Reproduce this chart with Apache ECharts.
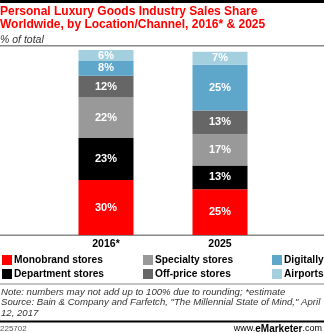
<!DOCTYPE html>
<html>
<head>
<meta charset="utf-8">
<script src="https://cdn.jsdelivr.net/npm/echarts@6/dist/echarts.min.js"></script>
<style>
html,body{margin:0;padding:0;background:#fff;}
#chart{width:324px;height:334px;}
</style>
</head>
<body>
<div id="chart"></div>
<script>
const categories = ['2016*', '2025'];
const monobrand = [30, 25];
const department = [23, 13];
const specialty = [22, 17];
const offprice = [12, 13];
const digitally = [8, 25];
const airports = [6, 7];

const seriesNames = ['Monobrand stores', 'Department stores', 'Specialty stores', 'Off-price stores', 'Digitally', 'Airports'];
const seriesData = [monobrand, department, specialty, offprice, digitally, airports];
const colors = ['#ff0000', '#000000', '#999999', '#666666', '#5fa6cb', '#a3cfdf'];

const FONT = 'Liberation Sans, Arial, sans-serif';
const chart = echarts.init(document.getElementById('chart'));

const series = seriesNames.map((name, i) => ({
  name: name,
  type: 'bar',
  stack: 'total',
  barWidth: 55,
  data: seriesData[i],
  itemStyle: { color: colors[i] },
  label: {
    show: true,
    position: 'inside',
    formatter: '{c}%',
    color: '#fff',
    fontWeight: 'bold',
    fontSize: 11,
    fontFamily: FONT
  }
}));

const legendBase = {
  orient: 'vertical',
  icon: 'rect',
  itemWidth: 10,
  itemHeight: 10,
  itemGap: 4,
  padding: 0,
  textStyle: { fontSize: 10.2, fontWeight: 'bold', color: '#000', fontFamily: FONT, padding: [0, 0, 0, -3] },
  selectedMode: false
};

chart.setOption({
  animation: false,
  color: colors,
  title: {
    text: 'Personal Luxury Goods Industry Sales Share\nWorldwide, by Location/Channel, 2016* & 2025',
    subtext: '% of total',
    left: 0,
    top: 5,
    padding: 0,
    itemGap: 4,
    textStyle: { fontSize: 12, fontWeight: 'bold', color: '#f00', lineHeight: 13, fontFamily: FONT },
    subtextStyle: { fontSize: 10.5, fontStyle: 'italic', color: '#333', fontFamily: FONT }
  },
  legend: [
    Object.assign({}, legendBase, { left: 2, top: 255, data: ['Monobrand stores', 'Department stores'] }),
    Object.assign({}, legendBase, { left: 143, top: 255, data: ['Specialty stores', 'Off-price stores'] }),
    Object.assign({}, legendBase, { left: 272, top: 255, data: ['Digitally', 'Airports'] })
  ],
  grid: { left: 49, right: 47, top: 50, bottom: 99 },
  xAxis: {
    type: 'category',
    data: categories,
    axisLine: { show: false },
    axisTick: { show: false },
    axisLabel: { fontSize: 10.5, fontWeight: 'bold', color: '#000', margin: 4, fontFamily: FONT }
  },
  yAxis: {
    type: 'value',
    min: 0,
    max: 101,
    show: false
  },
  series: series,
  graphic: [
    { type: 'rect', shape: { x: 0, y: 0, width: 324, height: 3 }, style: { fill: '#000' } },
    { type: 'rect', shape: { x: 0, y: 45, width: 324, height: 1.5 }, style: { fill: '#888' } },
    { type: 'rect', shape: { x: 0, y: 234.5, width: 324, height: 1.5 }, style: { fill: '#888' } },
    { type: 'rect', shape: { x: 0, y: 283.5, width: 324, height: 1 }, style: { fill: '#888' } },
    { type: 'rect', shape: { x: 0, y: 320.5, width: 324, height: 2 }, style: { fill: '#000' } },
    { type: 'text', left: 1, top: 287, style: {
        text: 'Note: numbers may not add up to 100% due to rounding; *estimate\nSource: Bain & Company and Farfetch, "The Millennial State of Mind," April\n12, 2017',
        font: 'italic 9.6px ' + FONT, fill: '#333', lineHeight: 10.5 } },
    { type: 'text', left: 0, top: 325, style: { text: '225702', font: '8px ' + FONT, fill: '#555' } },
    { type: 'text', right: 2, top: 324, style: {
        text: '{a|www.}{b|e}{c|Marketer}{a|.com}',
        rich: {
          a: { fontSize: 9, fontFamily: FONT, color: '#555' },
          b: { fontSize: 10, fontFamily: FONT, fontWeight: 'bold', color: '#f00' },
          c: { fontSize: 10, fontFamily: FONT, fontWeight: 'bold', color: '#222' }
        } } }
  ]
});
</script>
</body>
</html>
